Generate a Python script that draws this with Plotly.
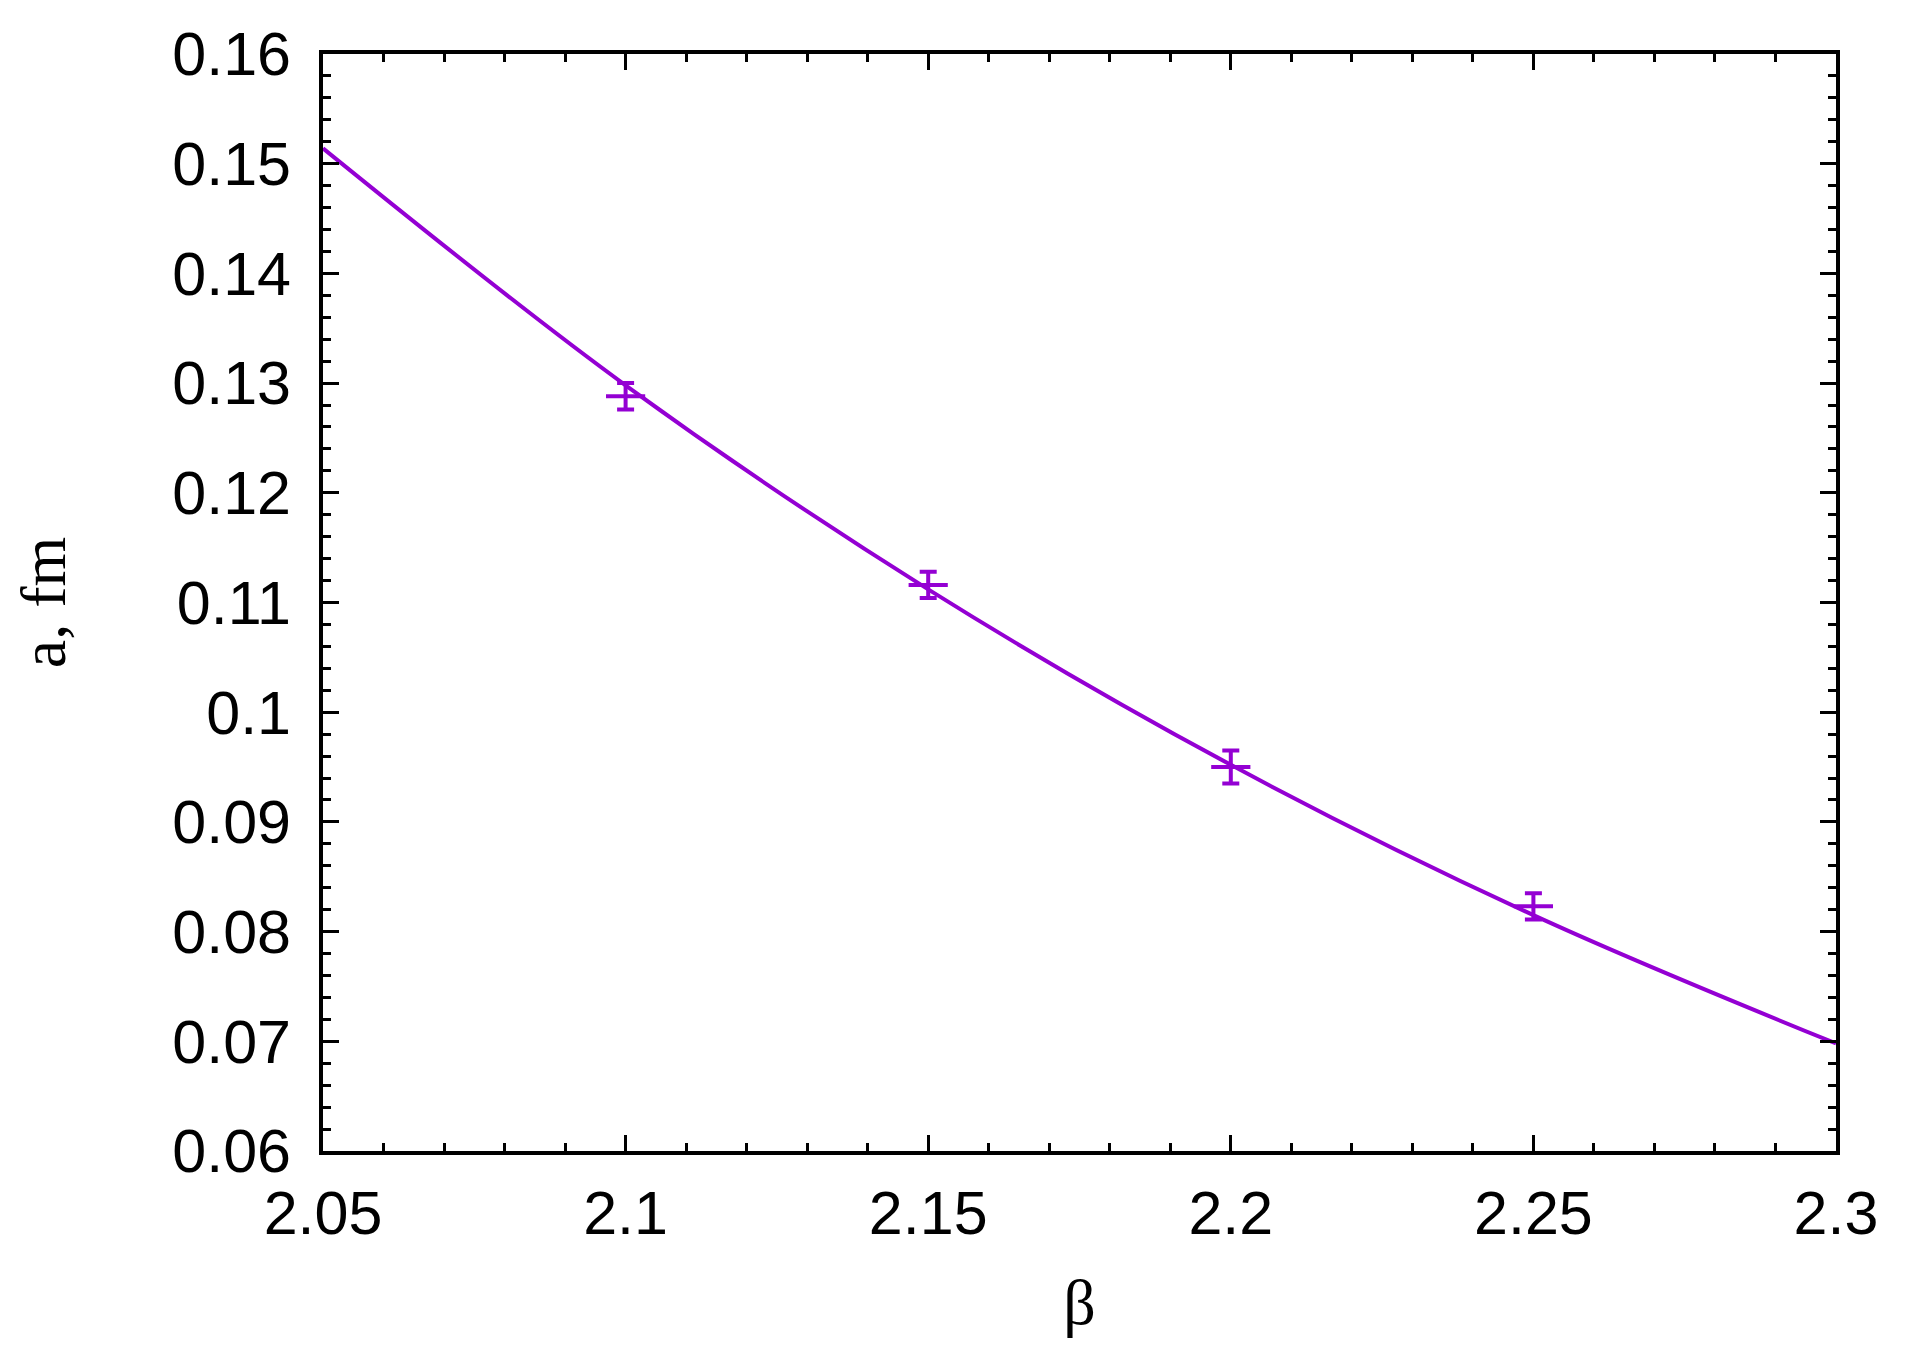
import plotly.graph_objects as go

# measured points (beta, lattice spacing a in fm, error)
beta = [2.10, 2.15, 2.20, 2.25]
a_fm = [0.1288, 0.1116, 0.0950, 0.0823]
a_err = [0.0012, 0.0012, 0.0015, 0.0012]

# fit curve
fit_beta = [2.05, 2.10, 2.15, 2.20, 2.25, 2.30]
fit_a = [0.1514, 0.1298, 0.1112, 0.0952, 0.0815, 0.0698]

x_ticks = [2.05, 2.10, 2.15, 2.20, 2.25, 2.30]
x_labels = ["2.05", "2.1", "2.15", "2.2", "2.25", "2.3"]
y_ticks = [0.06, 0.07, 0.08, 0.09, 0.10, 0.11, 0.12, 0.13, 0.14, 0.15, 0.16]
y_labels = ["0.06", "0.07", "0.08", "0.09", "0.1", "0.11", "0.12", "0.13", "0.14", "0.15", "0.16"]

purple = "#9400D3"

fig = go.Figure()
fig.add_trace(go.Scatter(
    x=fit_beta, y=fit_a, mode="lines",
    line=dict(color=purple, width=4, shape="spline", smoothing=1.0),
    showlegend=False,
))
fig.add_trace(go.Scatter(
    x=beta, y=a_fm, mode="markers",
    marker=dict(symbol="line-ew", size=28, line=dict(color=purple, width=4), color=purple),
    error_y=dict(type="data", array=a_err, color=purple, thickness=4, width=8.5),
    showlegend=False,
))

axis_common = dict(
    showline=True, linecolor="black", linewidth=3.5, mirror="allticks",
    ticks="inside", ticklen=16, tickwidth=3.2, tickcolor="black",
    showgrid=False, zeroline=False,
    tickfont=dict(family="Liberation Sans, Arial, sans-serif", size=61, color="black"),
)

fig.update_xaxes(
    range=[2.05, 2.30], tickmode="array", tickvals=x_ticks, ticktext=x_labels,
    minor=dict(dtick=0.01, tick0=2.05, ticks="inside", ticklen=8, tickwidth=3.2, tickcolor="black"),
    title=dict(text="β", font=dict(family="Liberation Serif, Times New Roman, serif", size=64, color="black"), standoff=34),
    ticklabelstandoff=6,
    **axis_common,
)
fig.update_yaxes(
    range=[0.06, 0.16], tickmode="array", tickvals=y_ticks, ticktext=y_labels,
    minor=dict(dtick=0.002, tick0=0.06, ticks="inside", ticklen=8, tickwidth=3.2, tickcolor="black"),
    title=dict(text="a, fm", font=dict(family="Liberation Serif, Times New Roman, serif", size=64, color="black"), standoff=93),
    ticklabelstandoff=16,
    **axis_common,
)

# the page body adds an 8px margin, so the figure is a bit smaller than the window
fig.update_layout(
    width=1890, height=1345,
    margin=dict(l=315, r=62, t=37, b=202),
    plot_bgcolor="white", paper_bgcolor="white",
)

fig.write_html("out.html")
